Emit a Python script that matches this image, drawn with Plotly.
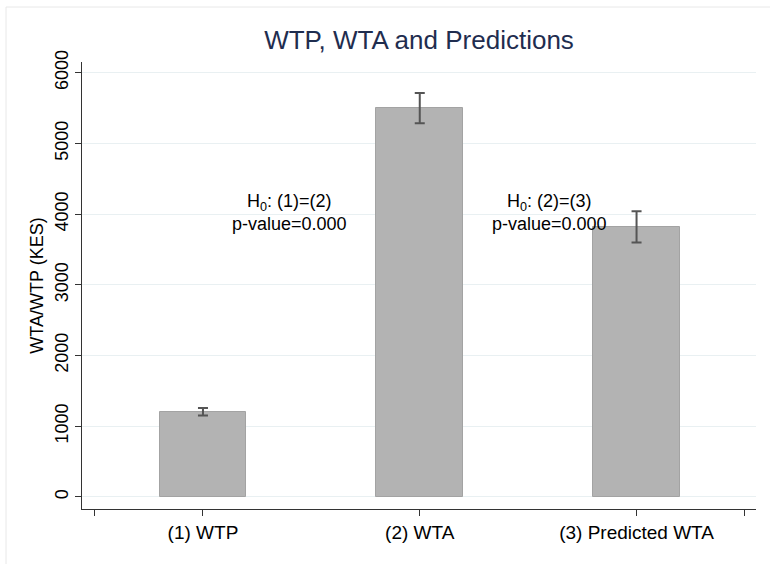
import plotly.graph_objects as go

categories = ["(1) WTP", "(2) WTA", "(3) Predicted WTA"]
means = [1205, 5500, 3820]
ci_half = [54, 214, 222]
y_ticks = [0, 1000, 2000, 3000, 4000, 5000, 6000]
tests = ["H<sub>0</sub>: (1)=(2)<br>p-value=0.000", "H<sub>0</sub>: (2)=(3)<br>p-value=0.000"]
test_x = [0.4, 1.6]
test_y = [4025, 4025]

FONT = "Liberation Sans, Arial, Helvetica, sans-serif"
xpos = list(range(len(categories)))

fig = go.Figure()
fig.add_trace(go.Bar(
    x=xpos, y=means, width=0.4,
    marker=dict(color="#b3b3b3", line=dict(color="#a3a3a3", width=1)),
    error_y=dict(type="data", array=ci_half, visible=True,
                 color="#555555", thickness=2, width=5),
    showlegend=False,
))

for tx, ty, tt in zip(test_x, test_y, tests):
    fig.add_annotation(x=tx, y=ty, text=tt, showarrow=False,
                       font=dict(family=FONT, size=18, color="#000000"),
                       xanchor="center", yanchor="middle", align="center")

fig.update_layout(
    width=770, height=564,
    margin=dict(l=82, r=14, t=62, b=55, autoexpand=False),
    paper_bgcolor="white", plot_bgcolor="white",
    font=dict(family=FONT, size=18, color="#000000"),
    title=dict(text="WTP, WTA and Predictions", x=0.5, xref="paper",
               y=1 - 40 / 564, yref="container", yanchor="middle", xanchor="center",
               font=dict(family=FONT, size=26, color="#1f2d4f")),
    bargap=0,
)
fig.update_xaxes(
    range=[-0.558, 2.551],
    tickvals=[-0.5] + xpos + [2.5],
    ticktext=[""] + categories + [""],
    showline=True, linecolor="#333333", linewidth=1,
    ticks="outside", ticklen=6, tickcolor="#333333",
    showgrid=False, zeroline=False, automargin=False,
    tickfont=dict(family=FONT, size=19),
)
fig.update_yaxes(
    range=[-170, 6151],
    tickvals=y_ticks,
    tickangle=-90,
    showline=True, linecolor="#333333", linewidth=1,
    ticks="outside", ticklen=6, tickcolor="#333333",
    showgrid=True, gridcolor="#e9f0f2", gridwidth=1, zeroline=False, automargin=False,
    tickfont=dict(family=FONT, size=18),
    title=dict(text="WTA/WTP (KES)", font=dict(family=FONT, size=18), standoff=3),
)
# faint outer graph-region frame
fig.add_shape(type="rect", xref="paper", yref="paper",
              x0=(6 - 82) / 674, x1=(790 - 82) / 674,
              y0=(509 - 600) / 447, y1=(509 - 7) / 447,
              line=dict(color="#e8e8e8", width=1), fillcolor="rgba(0,0,0,0)", layer="below")

fig.write_html("out.html", config={"displayModeBar": False},
               post_script="document.body.style.margin='0';document.body.style.padding='0';")
